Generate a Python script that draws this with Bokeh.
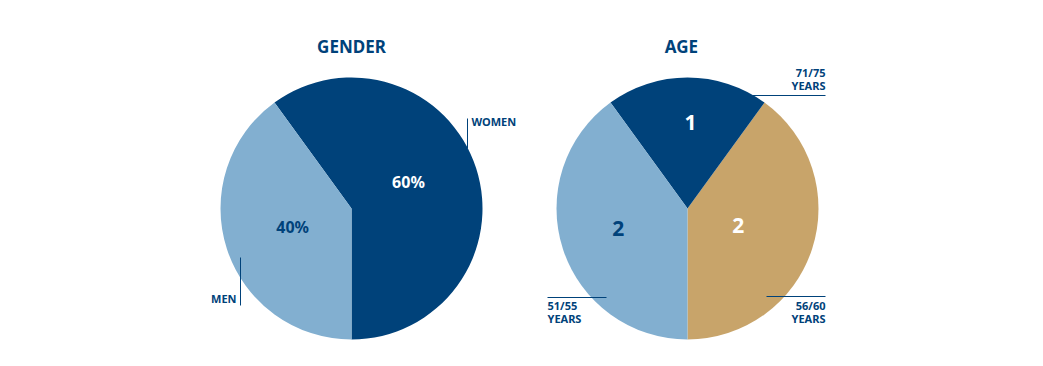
import math
from bokeh.plotting import figure
from bokeh.models import Range1d
from bokeh.core.properties import value
from bokeh.embed import file_html
from bokeh.resources import INLINE

# ---- data ----
gender_labels = ["WOMEN", "MEN"]
gender_values = [60, 40]
gender_texts = ["60%", "40%"]

age_labels = ["56/60 YEARS", "71/75 YEARS", "51/55 YEARS"]
age_values = [2, 1, 2]
age_texts = ["2", "1", "2"]

DARK = "#00427a"
LIGHT = "#82afd0"
TAN = "#c8a46a"
gender_colors = [DARK, LIGHT]
age_colors = [TAN, DARK, LIGHT]
gender_text_colors = ["white", DARK]
age_text_colors = ["white", "white", DARK]

W, H = 1035, 358
FONT = "Noto Sans"

def X(sx):
    return sx

def Y(sy):
    return H - sy

p = figure(width=W, height=H, output_backend="svg", toolbar_location=None,
           x_range=Range1d(0, W), y_range=Range1d(0, H), min_border=0)
p.axis.visible = False
p.grid.visible = False
p.outline_line_color = None
p.background_fill_color = "white"

R = 131

def pie(cx, cy, vals, colors):
    total = sum(vals)
    start = -math.pi / 2
    starts, ends, mids = [], [], []
    for v in vals:
        a = 2 * math.pi * v / total
        starts.append(start)
        ends.append(start + a)
        mids.append(start + a / 2)
        start += a
    p.wedge(x=[cx] * len(vals), y=[cy] * len(vals), radius=R,
            start_angle=starts, end_angle=ends, fill_color=colors,
            line_color=None)
    return mids

gcx, gcy = X(351), Y(208)
acx, acy = X(687), Y(208)
gmids = pie(gcx, gcy, gender_values, gender_colors)
amids = pie(acx, acy, age_values, age_colors)

# inner value labels: (radius fraction, angle shift in degrees)
g_pos = [(0.48, 7), (0.47, -1)]
a_pos = [(0.41, -1), (0.66, -2), (0.55, -2)]
for mids, pos, texts, cols, cx, cy, size in [
        (gmids, g_pos, gender_texts, gender_text_colors, gcx, gcy, "16px"),
        (amids, a_pos, age_texts, age_text_colors, acx, acy, "21px")]:
    xs = [cx + r * R * math.cos(m + math.radians(d)) for m, (r, d) in zip(mids, pos)]
    ys = [cy + r * R * math.sin(m + math.radians(d)) for m, (r, d) in zip(mids, pos)]
    p.text(x=xs, y=ys, text=texts, text_color=cols, text_font=value(FONT),
           text_font_style="bold", text_font_size=size,
           text_align="center", text_baseline="middle")

# titles
p.text(x=[X(351), X(681)], y=[Y(46), Y(46)], text=["GENDER", "AGE"],
       text_color=DARK, text_font=value(FONT), text_font_style="bold",
       text_font_size="17px", text_align="center", text_baseline="middle")

# leader lines
p.segment(x0=[X(467), X(240), X(752), X(766), X(547)],
          y0=[Y(118), Y(257), Y(95), Y(296), Y(297)],
          x1=[X(467), X(240), X(825), X(825), X(606)],
          y1=[Y(148), Y(305), Y(95), Y(296), Y(297)],
          line_color=DARK, line_width=1)

def lab(sx, sy, txt, align):
    p.text(x=[X(sx)], y=[Y(sy)], text=[txt], text_color=DARK,
           text_font=value(FONT), text_font_style="bold",
           text_font_size="11px", text_align=align, text_baseline="middle")

lab(471, 121, gender_labels[0], "left")
lab(236, 298, gender_labels[1], "right")
for (txt, sx, sy, align) in [(age_labels[1], 825, 72, "right"),
                             (age_labels[0], 825, 305, "right"),
                             (age_labels[2], 547, 305, "left")]:
    a, b = txt.split(" ")
    lab(sx, sy, a, align)
    lab(sx, sy + 13, b, align)

open("out.html", "w").write(file_html(p, INLINE))
